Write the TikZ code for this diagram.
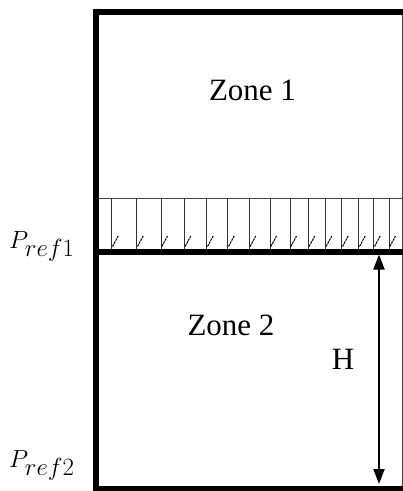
\documentclass[tikz,border=0pt]{standalone}
\usepackage{fontspec}
\setmainfont{Liberation Serif}
\usetikzlibrary{arrows.meta}
\tikzset{
  thickwall/.style={line width=6pt, line cap=rect},
  thinwall/.style={line width=0.8pt, black!75},
  slat/.style={line width=0.8pt, black!80},
  tickmark/.style={line width=1pt, dash pattern=on 2.5pt off 0.8pt},
  zonelabel/.style={font=\fontsize{31}{37}\selectfont, inner sep=0pt, anchor=base},
  plabel/.style={font=\fontsize{33}{40}\selectfont, inner sep=0pt, anchor=base west},
  harrow/.style={line width=1.8pt, {Triangle[width=11pt,length=15pt]}-{Triangle[width=11pt,length=15pt]}}
}
\begin{document}
\begin{tikzpicture}[x=1pt,y=-1pt]
\useasboundingbox (0,0) rectangle (403,491);
% outer frame
\draw[thinwall] (402,11) -- (402,488);
\draw[thickwall] (96,11.5) -- (400,11.5);
\draw[thickwall] (96,11.5) -- (96,491);
\draw[thickwall] (96,488.5) -- (400,488.5);
% band
\draw[thinwall] (99,198) -- (402,198);
\foreach \x in {111.7,136.7,161,184.3,206.7,227.7,249.3,270,290,308.3,325.3,341.7,358.7,373.7,389}{
  \draw[slat] (\x,198) -- (\x,249);
  \draw[tickmark] (\x+0.8,246.5) -- (\x+6.5,236);
}
\draw[line width=6pt] (93,251.5) -- (403,251.5);
% labels
\node[zonelabel] (z1) at (252.5,100) {Zone 1};
\node[zonelabel] (z2) at (231,335) {Zone 2};
\node[zonelabel] (h) at (343,369) {H};
\node[plabel] (p1) at (9,248) {$P_{ref1}$};
\node[plabel] (p2) at (9,467) {$P_{ref2}$};
% height arrow
\coordinate (atop) at (379,254.5);
\coordinate (abot) at (379,484);
\draw[harrow] (atop) -- (abot);
\end{tikzpicture}
\end{document}
